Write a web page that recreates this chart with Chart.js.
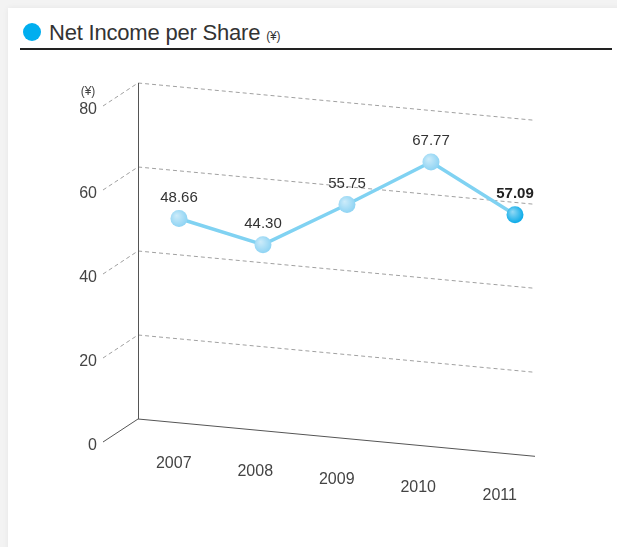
<!DOCTYPE html>
<html>
<head>
<meta charset="utf-8">
<script src="https://cdn.jsdelivr.net/npm/chart.js@4/dist/chart.umd.min.js"></script>
<style>
  html, body { margin: 0; padding: 0; }
  body { width: 617px; height: 547px; background: #f3f3f3; position: relative; overflow: hidden;
         font-family: "Liberation Sans", Arial, sans-serif; }
  .card { position: absolute; left: 8px; top: 8px; width: 620px; height: 560px; background: #fff;
          box-shadow: 0 0 6px rgba(0,0,0,0.06); }
  .dot { position: absolute; left: 23px; top: 23px; width: 18px; height: 18px; border-radius: 50%; background: #00aeef; }
  .title { position: absolute; left: 49px; top: 20px; font-size: 22px; color: #333; white-space: nowrap; letter-spacing: -0.2px; }
  .title small { font-size: 12px; }
  .rule { position: absolute; left: 20px; top: 48px; width: 592px; height: 1.5px; background: #222; }
  #chart { position: absolute; left: 0; top: 0; }
</style>
</head>
<body>
<div class="card"></div>
<div class="dot"></div>
<div class="title">Net Income per Share <small>(¥)</small></div>
<div class="rule"></div>
<canvas id="chart" width="617" height="547"></canvas>
<script>
(function () {
  'use strict';

  var years = ['2007', '2008', '2009', '2010', '2011'];
  var netIncome = [48.66, 44.30, 55.75, 67.77, 57.09];
  var yTicks = [0, 20, 40, 60, 80];
  var yUnit = '(¥)';

  // pente de la perspective (le mur du fond descend vers la droite)
  var SLOPE = 0.094;
  var DEPTH_X = -35, DEPTH_Y = 23;
  var FONT = '"Liberation Sans", Arial, sans-serif';

  function wallX(chart) { return chart.chartArea.left + 1; }

  var perspective = {
    id: 'perspective',
    afterDatasetsUpdate: function (chart) {
      var x0 = wallX(chart);
      chart.getDatasetMeta(0).data.forEach(function (p) {
        p.y += (p.x - x0) * SLOPE;
      });
    },
    beforeDatasetsDraw: function (chart) {
      var ctx = chart.ctx;
      var y = chart.scales.y, x = chart.scales.x;
      var x0 = wallX(chart);
      var xEnd = x.getPixelForValue(years.length - 1) + 20;
      ctx.save();
      yTicks.forEach(function (v) {
        var py = y.getPixelForValue(v);
        ctx.beginPath();
        if (v === 0) {
          ctx.setLineDash([]);
          ctx.strokeStyle = '#555';
          ctx.lineWidth = 1;
        } else {
          ctx.setLineDash([4, 3]);
          ctx.strokeStyle = '#a0a0a0';
          ctx.lineWidth = 1;
        }
        ctx.moveTo(x0 + DEPTH_X, py + DEPTH_Y);
        ctx.lineTo(x0, py);
        ctx.lineTo(xEnd, py + (xEnd - x0) * SLOPE);
        ctx.stroke();

        ctx.setLineDash([]);
        ctx.fillStyle = '#444';
        ctx.font = '16px ' + FONT;
        ctx.textAlign = 'right';
        ctx.textBaseline = 'middle';
        ctx.fillText(String(v), x0 - 41, py + 27);
        if (v === 80) {
          ctx.font = '12px ' + FONT;
          ctx.textAlign = 'center';
          ctx.fillText(yUnit, x0 - 50, py + 9);
        }
      });
      // axe vertical du mur
      ctx.beginPath();
      ctx.strokeStyle = '#555';
      ctx.lineWidth = 1;
      ctx.moveTo(x0 + 0.5, y.getPixelForValue(80));
      ctx.lineTo(x0 + 0.5, y.getPixelForValue(0));
      ctx.stroke();
      ctx.restore();
    },
    afterDatasetsDraw: function (chart) {
      var ctx = chart.ctx;
      var pts = chart.getDatasetMeta(0).data;
      var last = pts.length - 1;
      ctx.save();
      pts.forEach(function (p, i) {
        // reflet sur les points
        var g = ctx.createRadialGradient(p.x - 2.5, p.y - 3, 0, p.x - 1, p.y - 1, 9);
        g.addColorStop(0, 'rgba(255,255,255,0.55)');
        g.addColorStop(1, 'rgba(255,255,255,0)');
        ctx.beginPath();
        ctx.arc(p.x, p.y, 8.5, 0, Math.PI * 2);
        ctx.fillStyle = g;
        ctx.fill();

        ctx.fillStyle = i === last ? '#222' : '#333';
        ctx.font = (i === last ? 'bold ' : '') + '15px ' + FONT;
        ctx.textAlign = 'center';
        ctx.textBaseline = 'middle';
        ctx.fillText(netIncome[i].toFixed(2), p.x, p.y - 21);
      });
      ctx.restore();
    },
    afterDraw: function (chart) {
      var ctx = chart.ctx;
      var x0 = wallX(chart);
      var floor = chart.scales.y.getPixelForValue(0);
      ctx.save();
      ctx.fillStyle = '#444';
      ctx.font = '16px ' + FONT;
      ctx.textAlign = 'center';
      ctx.textBaseline = 'middle';
      chart.getDatasetMeta(0).data.forEach(function (p, i) {
        var lx = x0 + (p.x - x0) * 0.97 - 4;
        var ly = floor + (p.x - x0) * SLOPE + 41;
        ctx.fillText(years[i], lx, ly);
      });
      ctx.restore();
    }
  };

  var ctx = document.getElementById('chart');
  new Chart(ctx, {
    type: 'line',
    data: {
      labels: years,
      datasets: [{
        data: netIncome,
        borderColor: '#80d2f2',
        borderWidth: 3.5,
        tension: 0,
        pointRadius: 8.5,
        pointBorderWidth: 0,
        pointBackgroundColor: netIncome.map(function (v, i) { return i === netIncome.length - 1 ? '#12ade9' : '#92d5f4'; }),
        pointBorderColor: 'rgba(0,0,0,0)'
      }]
    },
    options: {
      responsive: false,
      animation: false,
      events: [],
      layout: { padding: { left: 137, right: 60, top: 83, bottom: 128 } },
      plugins: { legend: { display: false }, tooltip: { enabled: false } },
      scales: {
        x: { type: 'category', offset: true, display: false },
        y: { min: 0, max: 80, display: false, ticks: { stepSize: 20 } }
      }
    },
    plugins: [perspective]
  });
})();
</script>
</body>
</html>
